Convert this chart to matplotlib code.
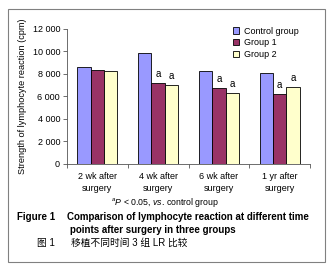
import numpy as np
import matplotlib.pyplot as plt
from matplotlib.patches import Rectangle

plt.rcParams['font.family'] = ['Liberation Sans', 'Noto Sans CJK SC', 'DejaVu Sans']
plt.rcParams['mathtext.fontset'] = 'custom'
plt.rcParams['mathtext.rm'] = 'Liberation Sans'
plt.rcParams['mathtext.it'] = 'Liberation Sans:italic'

# Data
categories = ["2 wk after\nsurgery", "4 wk after\nsurgery", "6 wk after\nsurgery", "1 yr after\nsurgery"]
series_names = ["Control group", "Group 1", "Group 2"]
control = [8600, 9880, 8260, 8060]
group1 = [8350, 7170, 6720, 6240]
group2 = [8260, 6990, 6280, 6800]
# which bars carry the "a" mark (P < 0.05 vs control)
sig1 = [False, True, True, True]
sig2 = [False, True, True, True]
colors = ["#9999FF", "#993366", "#FFFFCC"]
yticks = [0, 2000, 4000, 6000, 8000, 10000, 12000]

fig = plt.figure(figsize=(3.3, 2.69), dpi=100)
ax = fig.add_axes([67/330, 1-163.5/269, 243/330, (163.5-29)/269])

x = np.arange(len(categories))
w = 0.22
for i, (vals, name, c) in enumerate(zip([control, group1, group2], series_names, colors)):
    ax.bar(x + (i-1)*w, vals, w, color=c, edgecolor="black", linewidth=0.6, label=name)

for xi, v, s in zip(x, group1, sig1):
    if s:
        ax.text(xi, v + 350, "a", ha="center", va="bottom", fontsize=7)
for xi, v, s in zip(x + w, group2, sig2):
    if s:
        ax.text(xi, v + 350, "a", ha="center", va="bottom", fontsize=7)

ax.set_xlim(-0.5, len(categories) - 0.5)
ax.set_ylim(0, 12000)
ax.set_yticks(yticks)
ax.set_yticklabels([f"{t:,}".replace(",", " ") for t in yticks], fontsize=6.5)
ax.set_xticks(x)
ax.set_xticklabels(categories, fontsize=6.5, linespacing=1.5)
ax.set_xticks(np.arange(len(categories) + 1) - 0.5, minor=True)
ax.tick_params(axis="x", which="major", length=0, pad=6)
ax.tick_params(axis="x", which="minor", length=3, width=0.6, color="#555555")
ax.tick_params(axis="y", length=3, width=0.6, color="#555555", pad=2)
for s in ["top", "right"]:
    ax.spines[s].set_visible(False)
for s in ["left", "bottom"]:
    ax.spines[s].set_color("#555555")
    ax.spines[s].set_linewidth(0.6)

ax.set_ylabel("Strength of lymphocyte reaction (cpm)", fontsize=6.6)
ax.yaxis.set_label_coords(-0.165, 0.5)

ax.legend(loc="upper left", bbox_to_anchor=(228/330, 1-22/269), bbox_transform=fig.transFigure,
          frameon=False, fontsize=6.5, handlelength=0.7, handleheight=0.7,
          handletextpad=0.6, labelspacing=0.3, borderpad=0)

fig.text(0.5, 1-202.5/269, r"$^{a}$$\it{P}$ < 0.05, $\it{vs}$. control group", ha="center", va="center", fontsize=6.3)
fig.text(17/330, 1-217/269, "Figure 1", ha="left", va="center", fontsize=7, fontweight="bold")
fig.text(67/330, 1-217/269, "Comparison of lymphocyte reaction at different time",
         ha="left", va="center", fontsize=7, fontweight="bold")
fig.text(70/330, 1-230/269, "points after surgery in three groups",
         ha="left", va="center", fontsize=7, fontweight="bold")
fig.text(37/330, 1-243/269, "图 1", ha="left", va="center", fontsize=7)
fig.text(71/330, 1-243/269, "移植不同时间 3 组 LR 比较", ha="left", va="center", fontsize=7)

fig.patches.append(Rectangle((8/330, 1-262/269), 317/330, 253/269, transform=fig.transFigure,
                             fill=False, edgecolor="#808080", linewidth=0.8))

fig.savefig("out.png", dpi=100)
